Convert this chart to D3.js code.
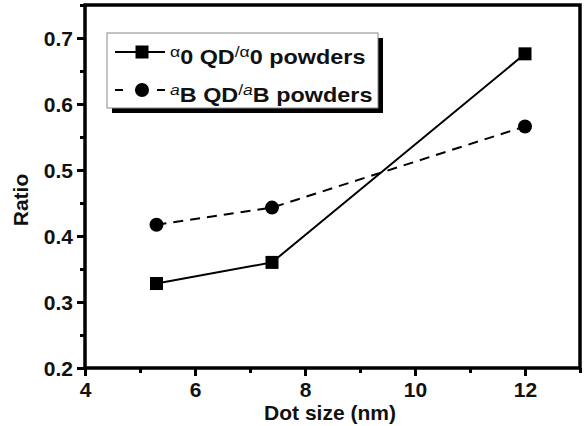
<!DOCTYPE html>
<html><head><meta charset="utf-8">
<script src="https://cdn.jsdelivr.net/npm/d3@7"></script>
<style>body{margin:0;background:#fff}svg{display:block}</style>
</head><body><svg id="c" width="588" height="426"></svg>
<script>
const dotSize = [5.3, 7.4, 12];
const alphaRatio = [0.328, 0.36, 0.676];
const aBRatio = [0.417, 0.443, 0.566];
const xTicks = [4, 6, 8, 10, 12];
const yTicks = [0.2, 0.3, 0.4, 0.5, 0.6, 0.7];

const svg = d3.select("#c");
const font = "Liberation Sans, Arial, sans-serif";
const x = d3.scaleLinear().domain([4, 13]).range([85, 580]);
const y = d3.scaleLinear().domain([0.2, 0.75]).range([368, 5]);
const isMajorY = d => yTicks.some(t => Math.abs(t - d) < 1e-9);

const g = svg.append("g").attr("font-family", font).attr("font-weight", "bold");
const xAxis = d3.axisBottom(x).tickValues(d3.range(4, 13.01, 1)).tickSize(6)
  .tickFormat(d => xTicks.includes(d) ? d : "");
const gx = g.append("g").attr("transform", `translate(0,${y(0.2)})`).call(xAxis);
gx.selectAll(".tick line").attr("stroke-width", 3).attr("y2", d => xTicks.includes(d) ? 8 : 5);
gx.selectAll(".tick text").attr("font-size", 21).attr("font-family", font)
  .attr("y", 29).attr("dy", 0).attr("fill", "#111");
gx.select(".domain").remove();

const yAxis = d3.axisLeft(y).tickValues(d3.range(0.2, 0.751, 0.05).map(v => +v.toFixed(2))).tickSize(6)
  .tickFormat(d => isMajorY(d) ? d3.format(".1f")(d) : "");
const gy = g.append("g").attr("transform", `translate(${x(4)},0)`).call(yAxis);
gy.selectAll(".tick line").attr("stroke-width", 3).attr("x2", d => isMajorY(d) ? -8 : -5);
gy.selectAll(".tick text").attr("font-size", 21).attr("font-family", font).attr("x", -12)
  .attr("dy", "0.36em").attr("fill", "#111");
gy.select(".domain").remove();

// frame
svg.append("rect").attr("x", x(4)).attr("y", y(0.75)).attr("width", x(13) - x(4))
  .attr("height", y(0.2) - y(0.75)).attr("fill", "none").attr("stroke", "#000").attr("stroke-width", 3.5);

// axis titles
svg.append("text").attr("x", 330).attr("y", 420).attr("text-anchor", "middle")
  .attr("font-family", font).attr("font-weight", "bold").attr("font-size", 21).attr("fill", "#111").text("Dot size (nm)");
svg.append("text").attr("transform", `translate(28,200) rotate(-90)`)
  .attr("text-anchor", "middle").attr("font-family", font).attr("font-weight", "bold")
  .attr("font-size", 21).attr("fill", "#111").text("Ratio");

const line = d3.line().x(d => x(d[0])).y(d => y(d[1]));
const s1 = dotSize.map((d, i) => [d, alphaRatio[i]]);
const s2 = dotSize.map((d, i) => [d, aBRatio[i]]);

svg.append("path").attr("d", line(s1)).attr("fill", "none").attr("stroke", "#000").attr("stroke-width", 2);
svg.append("path").attr("d", line(s2)).attr("fill", "none").attr("stroke", "#000").attr("stroke-width", 2)
  .attr("stroke-dasharray", "10,7");
svg.selectAll(".sq").data(s1).join("rect").attr("x", d => x(d[0]) - 6.5).attr("y", d => y(d[1]) - 6.5)
  .attr("width", 13).attr("height", 13).attr("fill", "#000");
svg.selectAll(".ci").data(s2).join("circle").attr("cx", d => x(d[0])).attr("cy", d => y(d[1]))
  .attr("r", 7).attr("fill", "#000");

// legend
const lx = 107, ly = 33, lw = 271, lh = 75;
svg.append("rect").attr("x", lx + 5).attr("y", ly + 5).attr("width", lw).attr("height", lh).attr("fill", "#000");
svg.append("rect").attr("x", lx).attr("y", ly).attr("width", lw).attr("height", lh)
  .attr("fill", "#fff").attr("stroke", "#888").attr("stroke-width", 1);
const r1 = 52, r2 = 90;
svg.append("line").attr("x1", 115).attr("x2", 165).attr("y1", r1).attr("y2", r1).attr("stroke", "#000").attr("stroke-width", 2);
svg.append("rect").attr("x", 135.5).attr("y", r1 - 6.5).attr("width", 13).attr("height", 13).attr("fill", "#000");
svg.append("line").attr("x1", 115).attr("x2", 166).attr("y1", r2).attr("y2", r2).attr("stroke", "#000").attr("stroke-width", 2)
  .attr("stroke-dasharray", "8,12,10,12,8");
svg.append("circle").attr("cx", 142).attr("cy", r2).attr("r", 7).attr("fill", "#000");

function legText(yb, sym, sub, italic) {
  const t = svg.append("text").attr("transform", `translate(170,${yb}) scale(1.17,1)`)
    .attr("font-family", font).attr("font-weight", "bold").attr("font-size", 20).attr("fill", "#111");
  const small = (s, it) => t.append("tspan").attr("font-size", 15).attr("font-weight", "normal")
    .attr("font-style", it ? "italic" : "normal").text(s);
  small(sym, italic).attr("dy", -7);
  t.append("tspan").attr("dy", 7).text(sub + " QD");
  small("/", false).attr("dy", -7);
  small(sym, italic);
  t.append("tspan").attr("dy", 7).text(sub + " powders");
}
legText(64, "α", "0", false);
legText(102, "a", "B", true);
</script></body></html>
